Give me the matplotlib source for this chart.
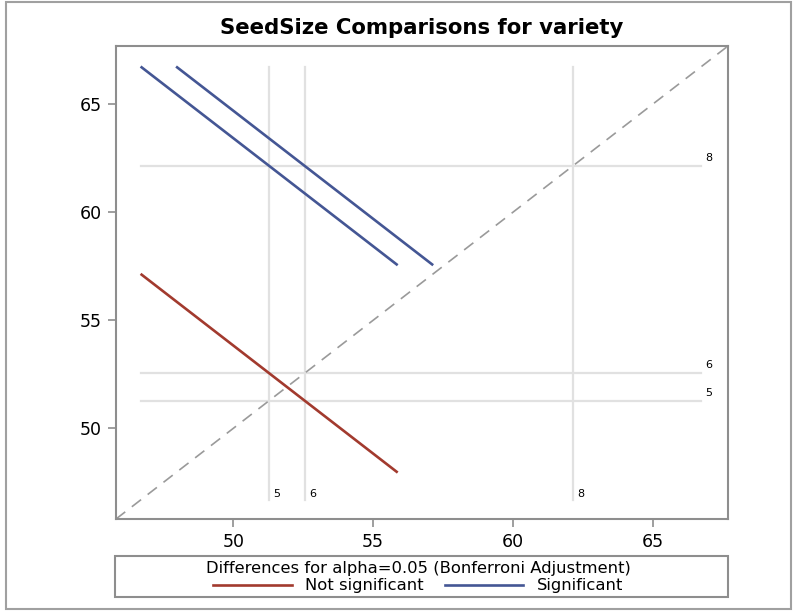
import matplotlib.pyplot as plt
from matplotlib.lines import Line2D
from matplotlib.patches import Rectangle

# LS-means of SeedSize by variety
varieties = ['5', '6', '8']
means = [51.28, 52.55, 62.15]
half_width = 4.6      # half length of each comparison segment (x and y)
# pairwise comparisons: (i, j, significant)
pairs = [(0, 1, False), (0, 2, True), (1, 2, True)]

red = '#a23a2e'
blue = '#445694'

fig = plt.figure(figsize=(7.95, 6.11), dpi=100)
ax = fig.add_axes([116 / 795, 92 / 611, 612 / 795, 473 / 611])

lo, hi = 45.8, 67.7
lo_ref = min(means) - half_width
hi_ref = max(means) + half_width

# reference lines at each mean
for name, m in zip(varieties, means):
    ax.plot([m, m], [lo_ref, hi_ref], color='#e1e1e1', lw=1.6, zorder=1)
    ax.plot([lo_ref, hi_ref], [m, m], color='#e1e1e1', lw=1.6, zorder=1)
    ax.annotate(name, (m, lo_ref), xytext=(3, 1), textcoords='offset points',
                ha='left', va='bottom', fontsize=8)
    ax.annotate(name, (hi_ref, m), xytext=(3, 2), textcoords='offset points',
                ha='left', va='bottom', fontsize=8)

# diagonal
ax.plot([lo, hi], [lo, hi], color='#9a9a9a', lw=1.2, ls=(0, (7, 5)), zorder=2)

# comparison segments
for i, j, sig in pairs:
    xi, yj = means[i], means[j]
    ax.plot([xi - half_width, xi + half_width], [yj + half_width, yj - half_width],
            color=blue if sig else red, lw=1.9, zorder=3, solid_capstyle='butt')

ax.set_xlim(lo, hi)
ax.set_ylim(lo, hi)
ax.set_xticks([50, 55, 60, 65])
ax.set_yticks([50, 55, 60, 65])
for s in ax.spines.values():
    s.set_color('#8e8e8e')
    s.set_linewidth(1.5)
ax.tick_params(colors='#8e8e8e', labelcolor='black', labelsize=12.5, length=6,
               width=1.2, pad=4)
ax.set_title('SeedSize Comparisons for variety', fontsize=15.3, fontweight='bold', pad=9)

# legend box below the plot
fig.patches.append(Rectangle((115 / 795, 14 / 611), 613 / 795, 41 / 611,
                             transform=fig.transFigure, fill=False,
                             edgecolor='#8e8e8e', lw=1.5))
handles = [Line2D([], [], color=red, lw=1.9), Line2D([], [], color=blue, lw=1.9)]
leg = fig.legend(handles, ['Not significant', 'Significant'], ncol=2,
                 loc='center', bbox_to_anchor=(418 / 795, 34 / 611), frameon=False,
                 title='Differences for alpha=0.05 (Bonferroni Adjustment)',
                 fontsize=11.8, title_fontsize=11.8, handlelength=4.8,
                 columnspacing=1.3, handletextpad=0.8, borderpad=0, labelspacing=0)
leg._legend_box.sep = 2

# outer frame
fig.patches.append(Rectangle((6 / 795, 2 / 611), 785 / 795, 607 / 611,
                             transform=fig.transFigure, fill=False,
                             edgecolor='#a0a0a0', lw=1.5))

fig.savefig('out.png', dpi=100)
